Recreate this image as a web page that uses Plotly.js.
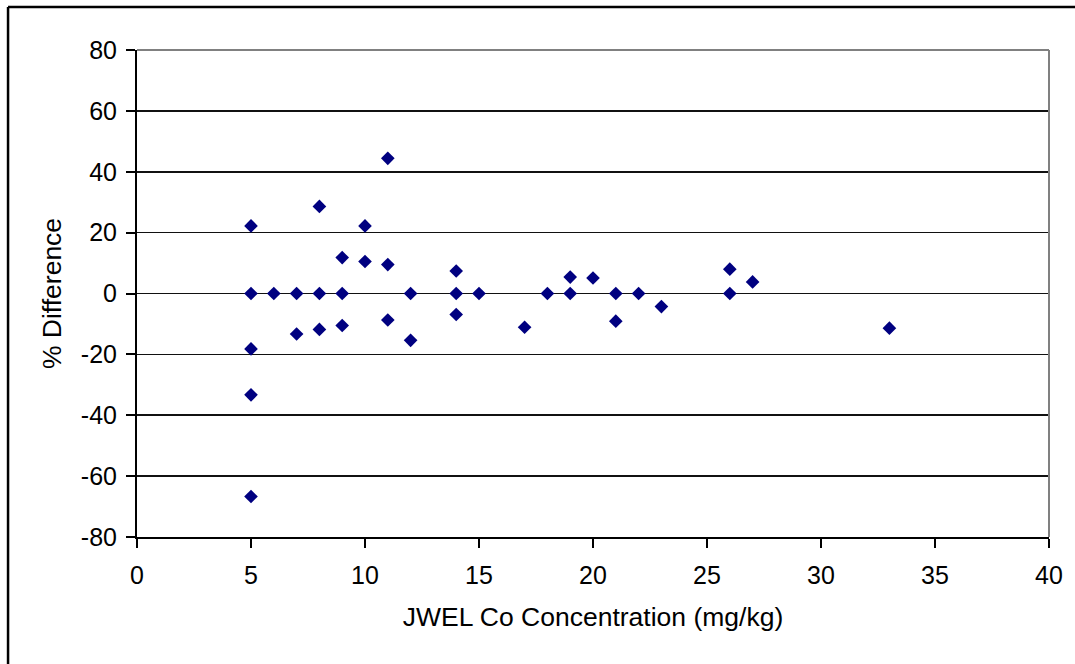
<!DOCTYPE html>
<html>
<head>
<meta charset="utf-8">
<script src="https://cdn.plot.ly/plotly-3.0.1.min.js"></script>
<style>
html,body{margin:0;padding:0;background:#fff;overflow:hidden;}
#chart{width:1075px;height:664px;}
</style>
</head>
<body>
<div id="chart"></div>
<script>
// JWEL Co concentration (mg/kg)
var concentration = [5, 5, 5, 5, 5, 6, 7, 7, 8, 8, 8, 9, 9, 9, 10, 10, 11, 11, 11, 12, 12, 14, 14, 14, 15, 17, 18, 19, 19, 20, 21, 21, 22, 23, 26, 26, 27, 33];
// % Difference
var pctDifference = [22.2, 0, -18.2, -33.3, -66.7, 0, 0, -13.3, 28.6, 0, -11.8, 11.8, 0, -10.5, 22.2, 10.5, 44.4, 9.5, -8.7, 0, -15.4, 7.4, 0, -6.9, 0, -11.1, 0, 5.4, 0, 5.1, 0, -9.1, 0, -4.3, 8.0, 0, 3.8, -11.4];

var xTicks = [0, 5, 10, 15, 20, 25, 30, 35, 40];
var yTicks = [-80, -60, -40, -20, 0, 20, 40, 60, 80];

var fontFamily = 'Liberation Sans, Arial, sans-serif';

var trace = {
  x: concentration,
  y: pctDifference,
  type: 'scatter',
  mode: 'markers',
  marker: {symbol: 'diamond', size: 10.5, color: '#000080', line: {width: 0}},
  hoverinfo: 'x+y',
  showlegend: false
};

var layout = {
  width: 1075,
  height: 664,
  margin: {l: 137, r: 26, t: 50, b: 127, pad: 0},
  paper_bgcolor: '#ffffff',
  plot_bgcolor: '#ffffff',
  font: {family: fontFamily, color: '#000000', size: 25},
  xaxis: {
    range: [0, 40],
    tickvals: xTicks,
    ticktext: xTicks.map(String),
    ticks: 'outside',
    ticklen: 9,
    tickwidth: 2,
    tickcolor: '#000',
    showgrid: false,
    zeroline: false,
    showline: true,
    linecolor: '#000',
    linewidth: 2,
    tickfont: {family: fontFamily, size: 25, color: '#000'},
    ticklabelstandoff: 6,
    title: {text: 'JWEL Co Concentration (mg/kg)', font: {family: fontFamily, size: 26.5, color: '#000'}, standoff: 19}
  },
  yaxis: {
    range: [-80, 80],
    tickvals: yTicks,
    ticktext: yTicks.map(String),
    ticks: 'outside',
    ticklen: 9,
    tickwidth: 2,
    tickcolor: '#000',
    showgrid: true,
    gridcolor: '#111',
    gridwidth: 1.6,
    zeroline: false,
    showline: true,
    linecolor: '#000',
    linewidth: 2,
    tickfont: {family: fontFamily, size: 25, color: '#000'},
    ticklabelstandoff: 4,
    title: {text: '% Difference', font: {family: fontFamily, size: 26.5, color: '#000'}, standoff: 12}
  },
  shapes: [
    {type: 'line', xref: 'paper', yref: 'paper', x0: 0, x1: 1, y0: 1, y1: 1, line: {color: '#808080', width: 2}, layer: 'above'},
    {type: 'line', xref: 'paper', yref: 'paper', x0: 1, x1: 1, y0: 0, y1: 1, line: {color: '#808080', width: 2}, layer: 'above'},
    {type: 'line', xref: 'paper', yref: 'paper', x0: -0.1414, x1: -0.1414, y0: -0.262, y1: 1.0883, line: {color: '#000', width: 2.5}, layer: 'above'},
    {type: 'line', xref: 'paper', yref: 'paper', x0: -0.1414, x1: 1.029, y0: 1.0883, y1: 1.0883, line: {color: '#000', width: 2.5}, layer: 'above'}
  ]
};

Plotly.newPlot('chart', [trace], layout, {displayModeBar: false, staticPlot: true});
</script>
</body>
</html>
